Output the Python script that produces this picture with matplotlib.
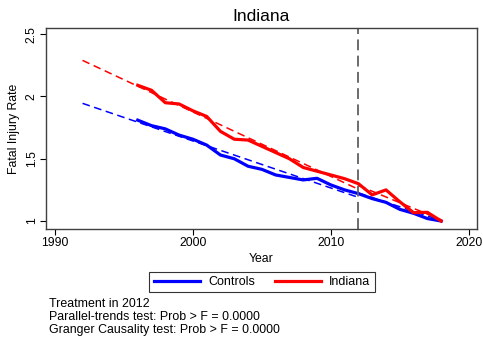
import matplotlib
matplotlib.use("Agg")
import matplotlib.pyplot as plt

plt.rcParams['font.family'] = ['Liberation Sans', 'DejaVu Sans']

years = list(range(1996, 2019))
indiana = [2.09, 2.05, 1.95, 1.94, 1.885, 1.84, 1.72, 1.657, 1.65, 1.60, 1.55, 1.50,
           1.43, 1.40, 1.37, 1.34, 1.30, 1.21, 1.25, 1.155, 1.067, 1.07, 1.00]
controls = [1.81, 1.766, 1.74, 1.69, 1.657, 1.61, 1.53, 1.50, 1.44, 1.415, 1.37, 1.35,
            1.33, 1.343, 1.29, 1.25, 1.22, 1.18, 1.15, 1.094, 1.062, 1.02, 1.00]

pre_years = [1992, 2012]
indiana_pre_trend = [2.29, 1.255]
controls_pre_trend = [1.945, 1.19]
post_years = [2012, 2018]
indiana_post_trend = [1.285, 1.01]
controls_post_trend = [1.225, 1.005]

treat_year = 2012
xticks = [1990, 2000, 2010, 2020]
yticks = [1, 1.5, 2, 2.5]
ytick_labels = ['1', '1.5', '2', '2.5']

fig = plt.figure(figsize=(4.83, 3.41), dpi=100)
ax = fig.add_axes([46/483, 1-229/341, (477-46)/483, (229-28)/341])

ax.plot(pre_years, controls_pre_trend, color='#0000ff', lw=1.1, ls=(0, (5, 3)))
ax.plot(pre_years, indiana_pre_trend, color='#ff0000', lw=1.1, ls=(0, (5, 3)))
ax.plot(post_years, controls_post_trend, color='#0000ff', lw=1.1, ls=(0, (5, 3)))
ax.plot(post_years, indiana_post_trend, color='#ff0000', lw=1.1, ls=(0, (5, 3)))
l1, = ax.plot(years, controls, color='#0000ff', lw=2.3, label='Controls')
l2, = ax.plot(years, indiana, color='#ff0000', lw=2.3, label='Indiana')
ax.axvline(treat_year, color='#606060', lw=1.3, ls=(0, (6, 3)))

ax.set_xlim(1989.35, 2020.6)
ax.set_ylim(0.936, 2.55)
ax.set_xticks(xticks)
ax.set_yticks(yticks)
ax.set_yticklabels(ytick_labels, rotation=90, va='center')
ax.tick_params(direction='out', length=4, width=0.8, labelsize=8.8, colors='black', pad=2)
for s in ax.spines.values():
    s.set_color('#404040')
    s.set_linewidth(1.0)

ax.set_title('Indiana', fontsize=12.5, pad=5)
ax.set_xlabel('Year', fontsize=8.8, labelpad=3)
ax.set_ylabel('Fatal Injury Rate', fontsize=8.8, labelpad=4)

leg = fig.legend(handles=[l1, l2], loc='center', bbox_to_anchor=(262/483, 1-282/341),
                 ncol=2, fontsize=9, frameon=True, fancybox=False, handlelength=3.7,
                 columnspacing=1.6, borderpad=0.35, handletextpad=0.65, borderaxespad=0)
leg.get_frame().set_edgecolor('black')
leg.get_frame().set_linewidth(0.8)

notes = ["Treatment in 2012",
         "Parallel-trends test: Prob > F = 0.0000",
         "Granger Causality test: Prob > F = 0.0000"]
for i, t in enumerate(notes):
    fig.text(49/483, 1-(304 + 13.2*i)/341, t, fontsize=8.9, va='center', ha='left')

fig.savefig('out.png', dpi=100)
